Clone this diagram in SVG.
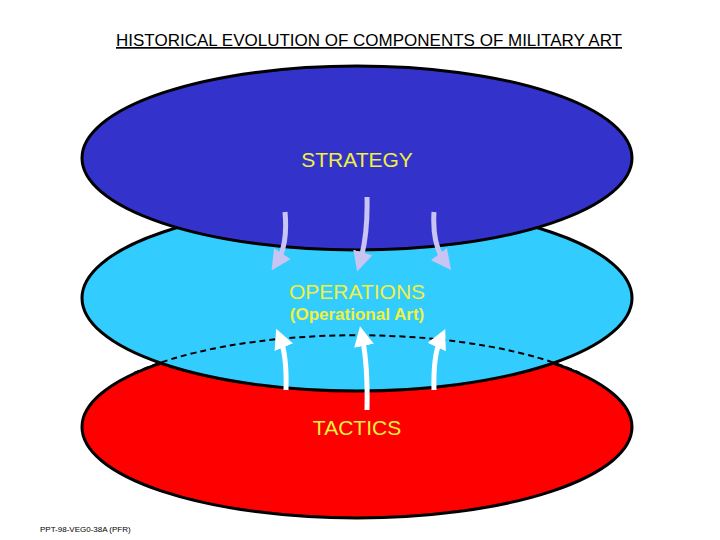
<svg xmlns="http://www.w3.org/2000/svg" width="720" height="540" viewBox="0 0 720 540">
<style>
.e{stroke:#000;stroke-width:3}
.t{font-family:"Liberation Sans",Arial,sans-serif;fill:#f0f040;text-anchor:middle}
.dn{fill:none;stroke:#c8c4f4;stroke-width:5;marker-end:url(#ad)}
.up{fill:none;stroke:#fff;stroke-width:5;marker-end:url(#au)}
</style>
<defs>
<marker id="ad" markerWidth="4" markerHeight="4" refX="2" refY="2" orient="auto"><path d="M0,0L4,2L0,4Z" fill="#c8c4f4"/></marker>
<marker id="au" markerWidth="4" markerHeight="4" refX="2" refY="2" orient="auto"><path d="M0,0L4,2L0,4Z" fill="#fff"/></marker>
</defs>
<rect width="720" height="540" fill="#fff"/>
<text x="369" y="46" style="font-family:'Liberation Sans',Arial,sans-serif;font-size:17px;text-decoration:underline" text-anchor="middle">HISTORICAL EVOLUTION OF COMPONENTS OF MILITARY ART</text>
<g id="tactics"><ellipse class="e" cx="357" cy="427" rx="275" ry="91" fill="#ff0000"/></g>
<g id="operations"><ellipse class="e" cx="357" cy="298" rx="275" ry="93" fill="#33ccff"/>
<path d="M134,373 A275,91 0 0 1 580,373" fill="none" stroke="#000" stroke-width="2" stroke-dasharray="6,4"/></g>
<g id="strategy"><ellipse class="e" cx="357" cy="158" rx="275" ry="92" fill="#3333cc"/>
<text class="t" x="357" y="167" font-size="21">STRATEGY</text></g>
<text class="t" x="357" y="299" font-size="21">OPERATIONS</text>
<text class="t" x="357" y="320" font-size="17" font-weight="bold">(Operational Art)</text>
<text class="t" x="357" y="435" font-size="21">TACTICS</text>
<g id="connectors">
<path class="dn" d="M285,212 Q288,245 277,262"/>
<path class="dn" d="M367,197 Q368,235 360,262"/>
<path class="dn" d="M434,212 Q432,245 445,262"/>
<path class="up" d="M286,390 Q287,355 280,338"/>
<path class="up" d="M367,410 Q368,365 362,336"/>
<path class="up" d="M434,390 Q433,355 441,338"/>
</g>
<text x="40" y="532" style="font-family:'Liberation Sans',Arial,sans-serif;font-size:8px">PPT-98-VEG0-38A (PFR)</text>
</svg>
